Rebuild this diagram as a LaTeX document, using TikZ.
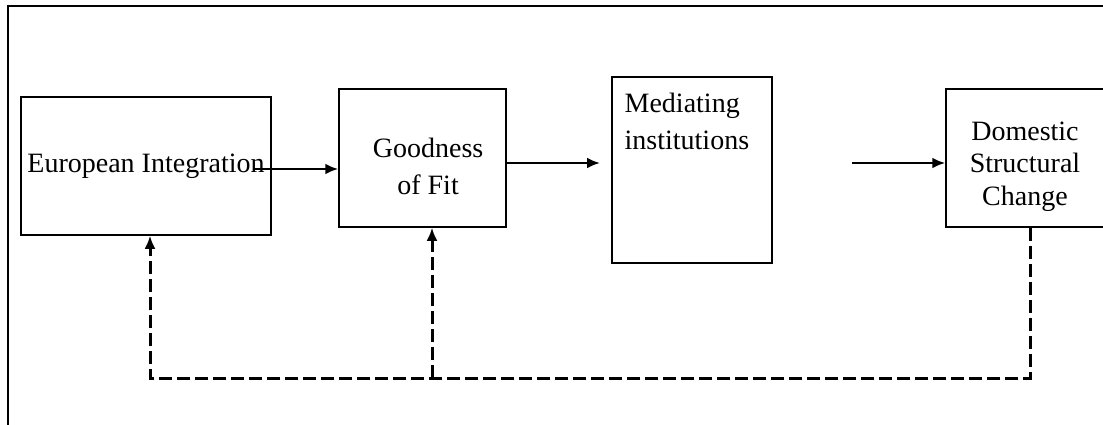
\documentclass[tikz,border=0pt]{standalone}
\usepackage{fontspec}
\setmainfont{Liberation Serif}
\usetikzlibrary{arrows.meta, positioning}
\tikzset{
	>={Latex[length=6.5pt,width=5.5pt]},
	box/.style={draw, line width=0.75pt, inner sep=2pt, align=center,
		font=\fontsize{14}{18.5}\selectfont},
	boxtext/.style={align=center, inner sep=0pt, font=\fontsize{14}{18.5}\selectfont},
	flow/.style={->, line width=1.4pt},
	feedback/.style={->, line width=1.5pt, dash pattern=on 6.5pt off 2.5pt},
	frame/.style={line width=0.9pt}}

\begin{document}
\begin{tikzpicture}[x=0.5pt, y=-0.5pt]
		\useasboundingbox (0,0) rectangle (1103,424);
		\draw[frame] (8,440) -- (8,6) -- (1120,6);

		\node[box, minimum width=125pt, minimum height=69pt] (eur) at (146,166) {European Integration};
		\node[box, minimum width=83.5pt, minimum height=69pt] (gof) at (422.5,158) {};
		\node[boxtext] (goftext) at ([shift={(2.8pt,-4pt)}]gof.center) {Goodness\\of Fit};
		\node[box, minimum width=80pt, minimum height=93pt] (med) at (692,170) {};
		\node[boxtext, anchor=north west, align=left]
			(medtext) at ([shift={(6.5pt,-8pt)}]med.north west) {Mediating\\institutions};
		\node[box, minimum width=80pt, minimum height=69pt] (dom) at (1026,158) {};
		\node[boxtext, font=\fontsize{14}{16.3}\selectfont]
			(domtext) at ([shift={(-0.5pt,-4.2pt)}]dom.center) {Domestic\\Structural\\Change};

		\coordinate (a1start) at (253,169);
		\coordinate (a2end) at (600,163);
		\coordinate (a3start) at (852,163);
		\coordinate (fbr) at (1030,378);
		\coordinate (fbm) at (432,378);
		\coordinate (fbl) at (150,378);

		\draw[flow] (a1start) -- (gof.west |- a1start);
		\draw[flow] (gof.east |- a2end) -- (a2end);
		\draw[flow] (a3start) -- (dom.west |- a3start);

		\draw[feedback] (dom.south -| fbr) -- (fbr) -- (fbl) -- (eur.south -| fbl);
		\draw[feedback] (fbm) -- (gof.south -| fbm);
	\end{tikzpicture}
\end{document}
